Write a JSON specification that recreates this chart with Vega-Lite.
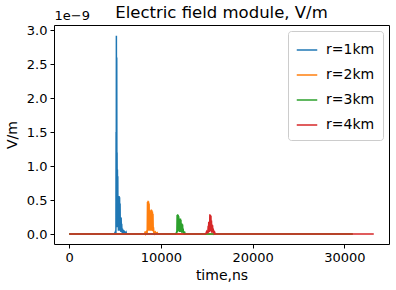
{
  "$schema": "https://vega.github.io/schema/vega-lite/v6.json",
  "autosize": {"type": "none"},
  "padding": {"left": 54, "top": 25, "right": 7, "bottom": 46},
  "width": 335,
  "height": 219,
  "background": "white",
  "title": {"text": "Electric field module, V/m", "fontSize": 16.5, "fontWeight": "normal", "color": "black", "anchor": "middle", "offset": -12},
  "data": {"values": [
    {"r":"r=1km","t":0,"v":0},{"r":"r=1km","t":4950,"v":0},{"r":"r=1km","t":5000,"v":0.03e-9},{"r":"r=1km","t":5030,"v":0.005e-9},{"r":"r=1km","t":5060,"v":0.05e-9},{"r":"r=1km","t":5090,"v":0.01e-9},{"r":"r=1km","t":5110,"v":1.5e-9},{"r":"r=1km","t":5125,"v":0.2e-9},{"r":"r=1km","t":5140,"v":2.92e-9},{"r":"r=1km","t":5160,"v":0.3e-9},{"r":"r=1km","t":5180,"v":2.6e-9},{"r":"r=1km","t":5200,"v":0.4e-9},{"r":"r=1km","t":5215,"v":1.2e-9},{"r":"r=1km","t":5235,"v":0.1e-9},{"r":"r=1km","t":5255,"v":0.95e-9},{"r":"r=1km","t":5275,"v":0.2e-9},{"r":"r=1km","t":5295,"v":0.85e-9},{"r":"r=1km","t":5315,"v":0.1e-9},{"r":"r=1km","t":5335,"v":0.56e-9},{"r":"r=1km","t":5360,"v":0.05e-9},{"r":"r=1km","t":5385,"v":0.55e-9},{"r":"r=1km","t":5410,"v":0.1e-9},{"r":"r=1km","t":5435,"v":0.56e-9},{"r":"r=1km","t":5460,"v":0.05e-9},{"r":"r=1km","t":5490,"v":0.54e-9},{"r":"r=1km","t":5515,"v":0.1e-9},{"r":"r=1km","t":5545,"v":0.45e-9},{"r":"r=1km","t":5570,"v":0.05e-9},{"r":"r=1km","t":5600,"v":0.25e-9},{"r":"r=1km","t":5630,"v":0.03e-9},{"r":"r=1km","t":5660,"v":0.24e-9},{"r":"r=1km","t":5690,"v":0.05e-9},{"r":"r=1km","t":5720,"v":0.15e-9},{"r":"r=1km","t":5760,"v":0.02e-9},{"r":"r=1km","t":5800,"v":0.08e-9},{"r":"r=1km","t":5850,"v":0.01e-9},{"r":"r=1km","t":5900,"v":0.06e-9},{"r":"r=1km","t":5950,"v":0.01e-9},{"r":"r=1km","t":6000,"v":0.05e-9},{"r":"r=1km","t":6100,"v":0.01e-9},{"r":"r=1km","t":6200,"v":0.03e-9},{"r":"r=1km","t":6250,"v":0},{"r":"r=1km","t":30900,"v":0},
    {"r":"r=2km","t":0,"v":0},{"r":"r=2km","t":8200,"v":0},{"r":"r=2km","t":8250,"v":0.02e-9},{"r":"r=2km","t":8300,"v":0.005e-9},{"r":"r=2km","t":8350,"v":0.04e-9},{"r":"r=2km","t":8400,"v":0.01e-9},{"r":"r=2km","t":8450,"v":0.05e-9},{"r":"r=2km","t":8500,"v":0.01e-9},{"r":"r=2km","t":8530,"v":0.47e-9},{"r":"r=2km","t":8560,"v":0.05e-9},{"r":"r=2km","t":8590,"v":0.49e-9},{"r":"r=2km","t":8620,"v":0.1e-9},{"r":"r=2km","t":8650,"v":0.48e-9},{"r":"r=2km","t":8680,"v":0.05e-9},{"r":"r=2km","t":8710,"v":0.45e-9},{"r":"r=2km","t":8740,"v":0.1e-9},{"r":"r=2km","t":8770,"v":0.35e-9},{"r":"r=2km","t":8800,"v":0.05e-9},{"r":"r=2km","t":8830,"v":0.35e-9},{"r":"r=2km","t":8860,"v":0.08e-9},{"r":"r=2km","t":8890,"v":0.34e-9},{"r":"r=2km","t":8920,"v":0.05e-9},{"r":"r=2km","t":8950,"v":0.36e-9},{"r":"r=2km","t":8980,"v":0.05e-9},{"r":"r=2km","t":9010,"v":0.35e-9},{"r":"r=2km","t":9040,"v":0.06e-9},{"r":"r=2km","t":9070,"v":0.33e-9},{"r":"r=2km","t":9100,"v":0.04e-9},{"r":"r=2km","t":9130,"v":0.3e-9},{"r":"r=2km","t":9160,"v":0.05e-9},{"r":"r=2km","t":9190,"v":0.1e-9},{"r":"r=2km","t":9230,"v":0.01e-9},{"r":"r=2km","t":9280,"v":0.04e-9},{"r":"r=2km","t":9330,"v":0.01e-9},{"r":"r=2km","t":9400,"v":0.03e-9},{"r":"r=2km","t":9500,"v":0.01e-9},{"r":"r=2km","t":9600,"v":0.02e-9},{"r":"r=2km","t":9650,"v":0},{"r":"r=2km","t":30900,"v":0},
    {"r":"r=3km","t":0,"v":0},{"r":"r=3km","t":11600,"v":0},{"r":"r=3km","t":11650,"v":0.01e-9},{"r":"r=3km","t":11700,"v":0.03e-9},{"r":"r=3km","t":11730,"v":0.005e-9},{"r":"r=3km","t":11760,"v":0.28e-9},{"r":"r=3km","t":11790,"v":0.03e-9},{"r":"r=3km","t":11820,"v":0.29e-9},{"r":"r=3km","t":11850,"v":0.05e-9},{"r":"r=3km","t":11880,"v":0.28e-9},{"r":"r=3km","t":11910,"v":0.04e-9},{"r":"r=3km","t":11940,"v":0.26e-9},{"r":"r=3km","t":11970,"v":0.05e-9},{"r":"r=3km","t":12000,"v":0.23e-9},{"r":"r=3km","t":12030,"v":0.03e-9},{"r":"r=3km","t":12060,"v":0.22e-9},{"r":"r=3km","t":12090,"v":0.04e-9},{"r":"r=3km","t":12120,"v":0.23e-9},{"r":"r=3km","t":12150,"v":0.03e-9},{"r":"r=3km","t":12180,"v":0.21e-9},{"r":"r=3km","t":12210,"v":0.04e-9},{"r":"r=3km","t":12240,"v":0.16e-9},{"r":"r=3km","t":12270,"v":0.02e-9},{"r":"r=3km","t":12300,"v":0.15e-9},{"r":"r=3km","t":12330,"v":0.03e-9},{"r":"r=3km","t":12360,"v":0.14e-9},{"r":"r=3km","t":12390,"v":0.02e-9},{"r":"r=3km","t":12420,"v":0.08e-9},{"r":"r=3km","t":12460,"v":0.01e-9},{"r":"r=3km","t":12500,"v":0.04e-9},{"r":"r=3km","t":12550,"v":0.01e-9},{"r":"r=3km","t":12600,"v":0.02e-9},{"r":"r=3km","t":12650,"v":0},{"r":"r=3km","t":30900,"v":0},
    {"r":"r=4km","t":0,"v":0},{"r":"r=4km","t":14850,"v":0},{"r":"r=4km","t":14900,"v":0.01e-9},{"r":"r=4km","t":14950,"v":0.03e-9},{"r":"r=4km","t":15000,"v":0.005e-9},{"r":"r=4km","t":15050,"v":0.05e-9},{"r":"r=4km","t":15100,"v":0.01e-9},{"r":"r=4km","t":15150,"v":0.12e-9},{"r":"r=4km","t":15180,"v":0.02e-9},{"r":"r=4km","t":15210,"v":0.18e-9},{"r":"r=4km","t":15240,"v":0.03e-9},{"r":"r=4km","t":15270,"v":0.18e-9},{"r":"r=4km","t":15300,"v":0.03e-9},{"r":"r=4km","t":15330,"v":0.29e-9},{"r":"r=4km","t":15360,"v":0.05e-9},{"r":"r=4km","t":15390,"v":0.28e-9},{"r":"r=4km","t":15420,"v":0.04e-9},{"r":"r=4km","t":15450,"v":0.27e-9},{"r":"r=4km","t":15480,"v":0.05e-9},{"r":"r=4km","t":15510,"v":0.2e-9},{"r":"r=4km","t":15540,"v":0.02e-9},{"r":"r=4km","t":15570,"v":0.14e-9},{"r":"r=4km","t":15600,"v":0.03e-9},{"r":"r=4km","t":15630,"v":0.13e-9},{"r":"r=4km","t":15660,"v":0.02e-9},{"r":"r=4km","t":15700,"v":0.08e-9},{"r":"r=4km","t":15740,"v":0.01e-9},{"r":"r=4km","t":15780,"v":0.05e-9},{"r":"r=4km","t":15820,"v":0.01e-9},{"r":"r=4km","t":15870,"v":0.02e-9},{"r":"r=4km","t":15920,"v":0},{"r":"r=4km","t":33200,"v":0}
  ]},
  "layer": [
    {
      "mark": {"type": "line", "strokeWidth": 1.5, "interpolate": "linear"},
      "encoding": {
        "x": {"field": "t", "type": "quantitative", "scale": {"domain": [-1660, 34860], "nice": false, "zero": false},
              "axis": {"title": "time,ns", "values": [0, 10000, 20000, 30000], "format": "d", "titlePadding": 4}},
        "y": {"field": "v", "type": "quantitative", "scale": {"domain": [-1.465e-10, 3.0765e-9], "nice": false, "zero": false},
              "axis": {"title": "V/m", "orient": "left", "values": [0, 5e-10, 1e-9, 1.5e-9, 2e-9, 2.5e-9, 3e-9], "labelExpr": "format(datum.value*1e9, '.1f')", "titlePadding": 7}},
        "color": {"field": "r", "type": "nominal",
                  "scale": {"domain": ["r=1km", "r=2km", "r=3km", "r=4km"], "range": ["#1f77b4", "#ff7f0e", "#2ca02c", "#d62728"]},
                  "legend": {"title": null, "orient": "top-right", "offset": 6}},
        "order": {"field": "t", "type": "quantitative"}
      }
    },
    {
      "mark": {"type": "point", "opacity": 0},
      "encoding": {
        "x": {"field": "t", "type": "quantitative"},
        "y": {"field": "v", "type": "quantitative",
              "axis": {"orient": "left", "title": "1e\u22129", "titleAngle": 0, "titleX": 0, "titleY": -3, "titleAlign": "left", "titleBaseline": "bottom", "titleFontSize": 13, "labels": false, "ticks": false, "domain": false, "grid": false}}
      }
    }
  ],
  "resolve": {"axis": {"y": "independent"}},
  "config": {
    "font": "DejaVu Sans",
    "view": {"stroke": "black", "strokeWidth": 1},
    "axis": {"grid": false, "domain": false, "tickColor": "black", "tickSize": 4, "tickWidth": 1, "labelColor": "black", "labelFontSize": 13, "titleColor": "black", "titleFontSize": 14, "titleFontWeight": "normal", "labelPadding": 3},
    "legend": {"labelFontSize": 14, "labelColor": "black", "symbolType": "stroke", "symbolStrokeWidth": 1.5, "symbolSize": 420, "padding": 8, "rowPadding": 7, "strokeColor": "#cccccc", "cornerRadius": 3, "fillColor": "white", "labelOffset": 8}
  }
}
